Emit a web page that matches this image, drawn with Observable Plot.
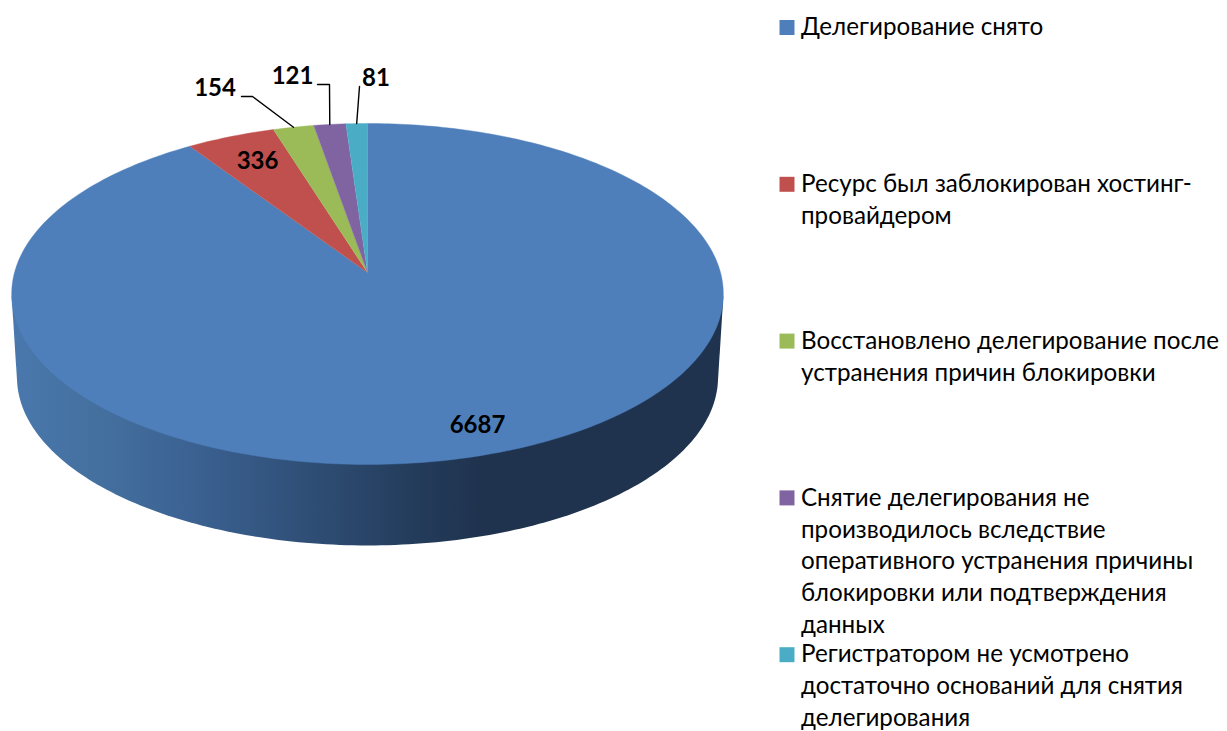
<!DOCTYPE html>
<html lang="ru">
<head>
<meta charset="utf-8">
<script src="https://cdn.jsdelivr.net/npm/d3@7"></script>
<script src="https://cdn.jsdelivr.net/npm/@observablehq/plot@0.6"></script>
<style>
html,body{margin:0;padding:0;background:#fff}
svg{display:block}
</style>
</head>
<body>
<div id="chart"></div>
<script>
const categories = [
  "Делегирование снято",
  "Ресурс был заблокирован хостинг-\nпровайдером",
  "Восстановлено делегирование после\nустранения причин блокировки",
  "Снятие делегирования не\nпроизводилось вследствие\nоперативного устранения причины\nблокировки или подтверждения\nданных",
  "Регистратором не усмотрено\nдостаточно оснований для снятия\nделегирования"
];
const values = [6687, 336, 154, 121, 81];
const colors = ["#4e7fbb", "#c0504d", "#9bbb59", "#8064a2", "#4bacc6"];

// layout
const W = 1227, H = 731, FONT = "Lato, Carlito, 'Open Sans', sans-serif";
const apexX = 367, apexY = 272, halfW = 353, halfH = 167.8, K = 0.126;
const wallScale = 0.985, wallDrop = 83.5;
const X = px => (px - apexX) / halfW;
const Y = py => (apexY - py) / halfH;

// tilted-disc perspective: angle clockwise from the far side
const project = (a, r = 1) => {
  const u = r * Math.sin(a), v = r * Math.cos(a), w = 1 + K * v;
  return [u / w, v / w];
};

const total = d3.sum(values);
const ends = d3.cumsum(values).map(c => (c / total) * 2 * Math.PI);
const slices = values.map((v, i) => ({
  category: categories[i], value: v,
  start: i ? ends[i - 1] : 0, end: ends[i]
}));

const STEP = Math.PI / 180;
const outline = slices.flatMap(s => {
  const n = Math.max(2, Math.ceil((s.end - s.start) / STEP));
  const pts = [{category: s.category, x: 0, y: 0}];
  for (let j = 0; j <= n; ++j) {
    const [x, y] = project(s.start + (s.end - s.start) * j / n);
    pts.push({category: s.category, x, y});
  }
  return pts;
});

// side wall: hull of the front of the top rim and the front of the lower rim
const rim = d3.range(0, 360).map(d => project(d * STEP));
const midY = d3.mean(d3.extent(rim, p => p[1]));
const lowerRim = rim.map(([x, y]) => [
  x * wallScale,
  midY + (y - midY) * wallScale - wallDrop / halfH
]);
const lowerMid = midY - wallDrop / halfH;
const wall = d3.polygonHull([
  ...rim.filter(p => p[1] <= midY),
  ...lowerRim.filter(p => p[1] <= lowerMid)
]).map(([x, y]) => ({x, y}));

// data labels, anchored on the slice mid-angle
const mid = s => (s.start + s.end) / 2;
const labelLayout = [
  {lx: 477, ly: 425},
  {lx: 257, ly: 161},
  {lx: 214.5, ly: 88, leader: [[252, 96], [241, 96]]},
  {lx: 292, ly: 76, leader: [[329, 84], [317, 84]]},
  {lx: 375.5, ly: 78, leader: [[359, 86]]}
];
const labels = slices.map((s, i) => ({
  text: String(s.value), x: X(labelLayout[i].lx), y: Y(labelLayout[i].ly)
}));
const leaders = slices.flatMap((s, i) => {
  const l = labelLayout[i].leader;
  if (!l) return [];
  const [x0, y0] = project(mid(s));
  return [{id: i, x: x0, y: y0}, ...l.map(([px, py]) => ({id: i, x: X(px), y: Y(py)}))];
});

// legend
const legendX = 786.5, legendTextX = 800.5, legendFirst = 27, legendStep = 156.8;
const legend = categories.map((c, i) => ({
  category: c,
  x: X(legendX), tx: X(legendTextX),
  y: Y(legendFirst + i * legendStep),
  ty: Y(legendFirst + i * legendStep - 15)
}));

const gradient = () => {
  const defs = d3.create("svg:defs");
  const g = defs.append("linearGradient").attr("id", "wallShade")
    .attr("gradientUnits", "userSpaceOnUse")
    .attr("x1", 11).attr("x2", 723).attr("y1", 0).attr("y2", 0);
  [[0, "#4a78ad"], [0.12, "#44709f"], [0.27, "#3a6090"], [0.42, "#2f4e75"],
   [0.56, "#243d5c"], [0.66, "#1f334e"], [1, "#1f334e"]]
    .forEach(([o, c]) => g.append("stop").attr("offset", o).attr("stop-color", c));
  return defs.node();
};

const chart = Plot.plot({
  width: W, height: H,
  margin: 0,
  style: {background: "#fff", fontFamily: FONT},
  x: {axis: null, domain: [-1, 1], range: [apexX - halfW, apexX + halfW]},
  y: {axis: null, domain: [-1, 1], range: [apexY + halfH, apexY - halfH]},
  color: {domain: categories, range: colors, legend: false},
  marks: [
    gradient,
    Plot.line(wall, {x: "x", y: "y", fill: "url(#wallShade)", stroke: "none"}),
    Plot.line(outline, {x: "x", y: "y", z: "category", fill: "category", stroke: "category", strokeWidth: 0.4}),
    Plot.line(leaders, {x: "x", y: "y", z: "id", stroke: "#000", strokeWidth: 1.4, curve: "linear"}),
    Plot.text(labels, {x: "x", y: "y", text: "text", fill: "#000", fontSize: 24, fontWeight: 700, fontFamily: FONT}),
    Plot.dot(legend, {x: "x", y: "y", fill: "category", stroke: "none", symbol: "square", r: 8.46}),
    Plot.text(legend, {x: "tx", y: "ty", text: "category", fill: "#000", fontSize: 24.2, fontFamily: FONT,
      textAnchor: "start", lineAnchor: "top", lineHeight: 1.32})
  ]
});
document.getElementById("chart").append(chart);
</script>
</body>
</html>
